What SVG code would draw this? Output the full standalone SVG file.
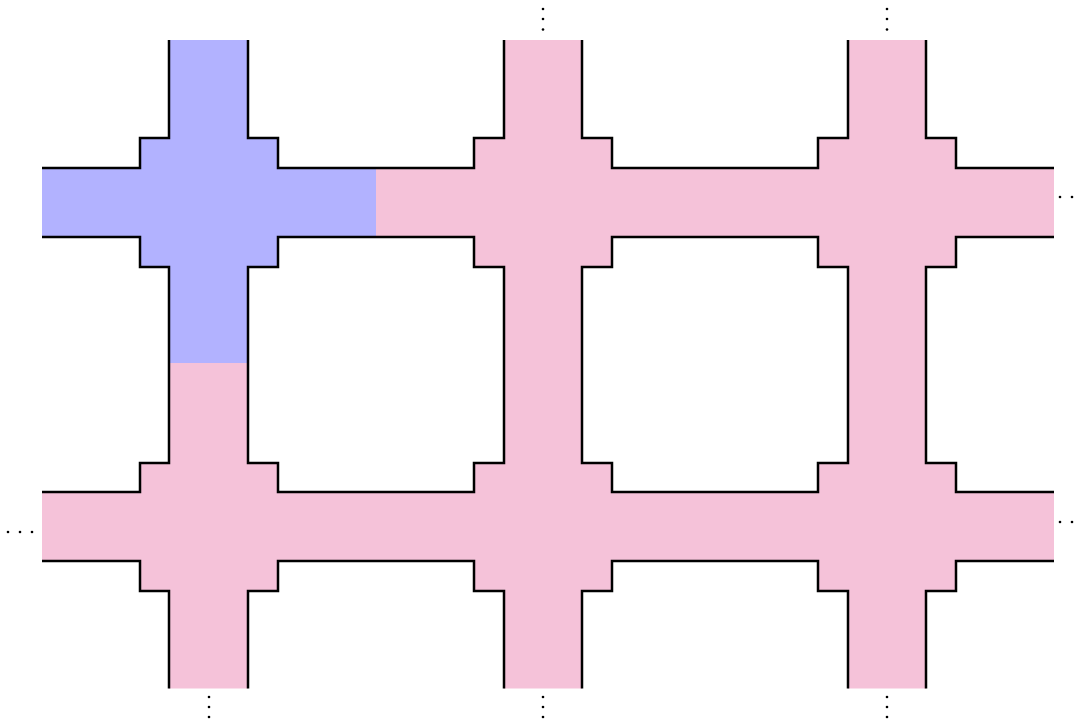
<svg xmlns="http://www.w3.org/2000/svg" width="1078" height="719" viewBox="0 0 1078 719">
<style>
.pink{fill:#F5C2D9}
.blue{fill:#B2B2FF}
.edge{fill:none;stroke:#000;stroke-width:2.5;stroke-linejoin:miter;stroke-linecap:butt}
.dot{fill:#000}
</style>
<rect width="1078" height="719" fill="#fff"/>
<g id="lattice-fill">
<g class="pink">
<rect x="169" y="40" width="79" height="648.5"/>
<rect x="504" y="40" width="78" height="648.5"/>
<rect x="848" y="40" width="78" height="648.5"/>
<rect x="42" y="168" width="1012" height="69"/>
<rect x="42" y="492" width="1012" height="69"/>
<rect x="140" y="138" width="138" height="129"/>
<rect x="474" y="138" width="138" height="129"/>
<rect x="818" y="138" width="138" height="129"/>
<rect x="140" y="463" width="138" height="128"/>
<rect x="474" y="463" width="138" height="128"/>
<rect x="818" y="463" width="138" height="128"/>
</g>
<g id="blue-region" class="blue">
<rect x="169" y="40" width="79" height="323"/>
<rect x="42" y="168" width="334" height="69"/>
<rect x="140" y="138" width="138" height="129"/>
</g>
</g>
<g id="edges" class="edge">
<path d="M42,168 H140 V138 H169 V40"/>
<path d="M248,40 V138 H278 V168 H474 V138 H504 V40"/>
<path d="M582,40 V138 H612 V168 H818 V138 H848 V40"/>
<path d="M926,40 V138 H956 V168 H1054"/>
<path d="M278,237 V267 H248 V463 H278 V492 H474 V463 H504 V267 H474 V237 Z"/>
<path d="M612,237 V267 H582 V463 H612 V492 H818 V463 H848 V267 H818 V237 Z"/>
<path d="M42,237 H140 V267 H169 V463 H140 V492 H42"/>
<path d="M1054,237 H956 V267 H926 V463 H956 V492 H1054"/>
<path d="M42,561 H140 V591 H169 V688.5"/>
<path d="M248,688.5 V591 H278 V561 H474 V591 H504 V688.5"/>
<path d="M582,688.5 V591 H612 V561 H818 V591 H848 V688.5"/>
<path d="M926,688.5 V591 H956 V561 H1054"/>
</g>
<g id="ellipses" class="dot">
<circle cx="543" cy="9" r="1.3"/><circle cx="543" cy="19" r="1.3"/><circle cx="543" cy="29.5" r="1.3"/>
<circle cx="887" cy="9" r="1.3"/><circle cx="887" cy="19" r="1.3"/><circle cx="887" cy="29.5" r="1.3"/>
<circle cx="1060" cy="197" r="1.3"/><circle cx="1072" cy="197" r="1.3"/>
<circle cx="1060" cy="522" r="1.3"/><circle cx="1072" cy="522" r="1.3"/>
<circle cx="8" cy="532" r="1.3"/><circle cx="20" cy="532" r="1.3"/><circle cx="32" cy="532" r="1.3"/>
<circle cx="209" cy="697" r="1.3"/><circle cx="209" cy="707" r="1.3"/><circle cx="209" cy="717" r="1.3"/>
<circle cx="543" cy="697" r="1.3"/><circle cx="543" cy="707" r="1.3"/><circle cx="543" cy="717" r="1.3"/>
<circle cx="887" cy="697" r="1.3"/><circle cx="887" cy="707" r="1.3"/><circle cx="887" cy="717" r="1.3"/>
</g>
</svg>
